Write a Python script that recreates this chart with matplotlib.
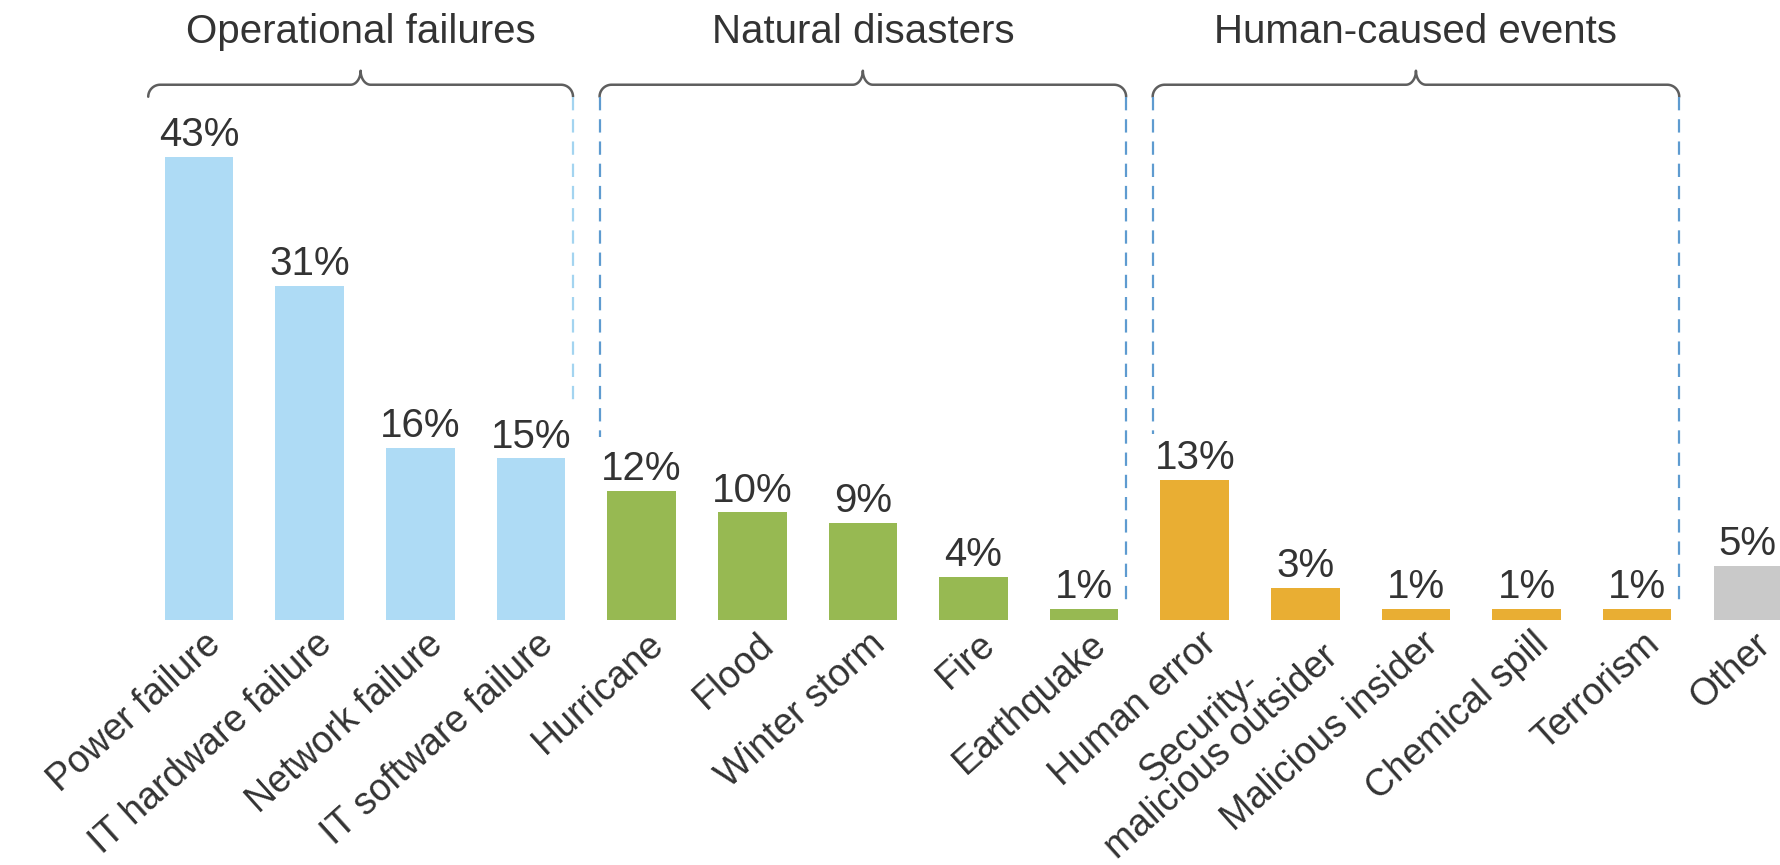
import numpy as np
import matplotlib.pyplot as plt
from matplotlib.transforms import ScaledTranslation

# Data
categories = ['Power failure', 'IT hardware failure', 'Network failure', 'IT software failure',
              'Hurricane', 'Flood', 'Winter storm', 'Fire', 'Earthquake',
              'Human error', 'Security-\nmalicious outsider', 'Malicious insider',
              'Chemical spill', 'Terrorism', 'Other']
values = [43, 31, 16, 15, 12, 10, 9, 4, 1, 13, 3, 1, 1, 1, 5]
groups = ['ops'] * 4 + ['nat'] * 5 + ['hum'] * 5 + ['other']

group_titles = ['Operational failures', 'Natural disasters', 'Human-caused events']
group_first = [0, 4, 9]
group_last = [3, 8, 13]

# Styles
colors = {'ops': '#aedbf5', 'nat': '#97b952', 'hum': '#e9ae33', 'other': '#c9c9c9'}
text_color = '#333333'
brace_color = '#5e5e5e'
dash_colors = ['#a3d4f0', '#5e9bd0', '#5e9bd0', '#5e9bd0', '#5e9bd0']
dash_bottoms = [20.0, 17.0, 1.7, 17.3, 1.7]

plt.rcParams['font.family'] = ['Liberation Sans', 'DejaVu Sans']

W, H = 1781, 865
fig = plt.figure(figsize=(W / 100, H / 100), dpi=100)
base_px = 620          # baseline of bars, pixels from top
px_per_pct = 10.77
ax = fig.add_axes([0, (H - base_px) / H, 1, base_px / H])

x = np.arange(len(values))
ax.bar(x, values, width=0.62, color=[colors[g] for g in groups])

ax.set_xlim(-1.80, 14.30)
ax.set_ylim(0, base_px / px_per_pct)

# value labels
for xi, v in zip(x, values):
    ax.annotate(f'{v}%', (xi, v), xytext=(0, 2), textcoords='offset points',
                ha='center', va='bottom', fontsize=29, color=text_color)

# category labels
ax.set_xticks(x)
ax.set_xticklabels(categories, rotation=42, ha='right', va='center',
                   rotation_mode='anchor', fontsize=27, color=text_color,
                   multialignment='center', linespacing=0.9)
ax.tick_params(axis='x', length=0, pad=14)
shift = ScaledTranslation(0.17, 0, fig.dpi_scale_trans)
for lab in ax.get_xticklabels():
    lab.set_transform(lab.get_transform() + shift)
ax.set_yticks([])
for s in ax.spines.values():
    s.set_visible(False)

# pixel -> data scale
sx = ax.bbox.width / (ax.get_xlim()[1] - ax.get_xlim()[0])
sy = ax.bbox.height / (ax.get_ylim()[1] - ax.get_ylim()[0])


def brace(x0, x1, y, drop=12, tip=14, r=12):
    # curly brace, y is the horizontal line in data units, sizes in pixels
    xm = (x0 + x1) / 2
    t = np.linspace(0, np.pi / 2, 20)
    rx, ry = r / sx, r / sy
    left_x = x0 + rx - rx * np.cos(t)
    left_y = y - drop / sy + ry * np.sin(t)
    tip_x = xm - (10 / sx) * (1 - np.sin(t))
    tip_y = y + (tip / sy) * (1 - np.cos(t))
    xs = np.concatenate([left_x, tip_x, 2 * xm - tip_x[::-1], 2 * xm - left_x[::-1]])
    ys = np.concatenate([left_y, tip_y, tip_y[::-1], left_y[::-1]])
    ax.plot(xs, ys, color=brace_color, lw=1.8, clip_on=False, solid_capstyle='round')


brace_y = 49.7
edges = []
for k in range(3):
    x0 = group_first[k] - 0.38
    x1 = group_last[k] + 0.38
    if k == 0:
        x0 = group_first[k] - 0.46
    brace(x0, x1, brace_y)
    ax.text((x0 + x1) / 2, 53.6, group_titles[k], ha='center', va='baseline',
            fontsize=29, color=text_color)
    if k > 0:
        edges.append(x0)
    edges.append(x1)

# dashed guide lines under the braces
top = brace_y - 12 / sy
for ex, yb, c in zip(edges, dash_bottoms, dash_colors):
    ax.plot([ex, ex], [top, yb], color=c, lw=1.6, ls=(0, (6, 4)), clip_on=False)

fig.savefig('out.png', dpi=100)
